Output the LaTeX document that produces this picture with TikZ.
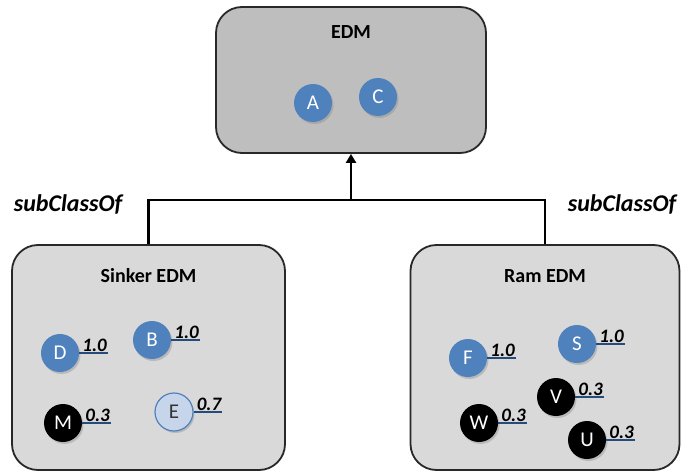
\documentclass[tikz,border=0pt]{standalone}
\usepackage{fontspec}
\setmainfont{Carlito}
\usetikzlibrary{positioning,arrows.meta,shadows}
\definecolor{topbg}{RGB}{190,190,190}
\definecolor{subbg}{RGB}{217,217,217}
\definecolor{boxline}{RGB}{40,40,40}
\definecolor{conblue}{RGB}{79,129,189}
\definecolor{conlight}{RGB}{198,213,234}
\definecolor{ulblue}{RGB}{37,74,124}
\tikzset{
  classbox/.style={rectangle, rounded corners=26pt, draw=boxline, line width=1.8pt,
    inner sep=0pt},
  title/.style={font=\fontsize{20}{22}\selectfont\bfseries, anchor=base},
  concept/.style={circle, minimum size=38pt, inner sep=0pt, text=white,
    font=\fontsize{21}{23}\selectfont,
    drop shadow={shadow xshift=1.5pt, shadow yshift=-2pt, opacity=0.35}},
  bluec/.style={concept, fill=conblue},
  blackc/.style={concept, fill=black},
  lightc/.style={concept, fill=conlight, draw=conblue, line width=1.2pt, text=black!80},
  wt/.style={anchor=south west, inner sep=1pt, xshift=2pt,
    font=\fontsize{19}{21}\selectfont\bfseries\itshape},
  uline/.style={draw=ulblue, line width=1.8pt},
  tree/.style={line width=2.6pt, black},
  lbl/.style={font=\fontsize{24}{26}\selectfont\bfseries\itshape},
}
% weight label with underline, attached to a concept node
\newcommand{\weight}[2]{%
  \node[wt] (w#1) at (#1.east) {#2};
  \draw[uline] (#1.east) -- (#1.east -| w#1.east);}

\begin{document}
\begin{tikzpicture}[x=1pt, y=-1pt]
  \useasboundingbox (0,0) rectangle (681,474);

  % class boxes
  \node[classbox, fill=topbg, minimum width=270pt, minimum height=146pt] (edm) at (351,80) {};
  \node[classbox, fill=subbg, minimum width=273pt, minimum height=225pt] (sinker) at (148.5,357.5) {};
  \node[classbox, fill=subbg, minimum width=269pt, minimum height=225pt] (ram) at (545,357.5) {};

  \node[title] (edmt) at ([yshift=-32pt]edm.north) {EDM};
  \node[title] (sinkert) at ([yshift=-38pt]sinker.north) {Sinker EDM};
  \node[title] (ramt) at ([yshift=-38pt]ram.north) {Ram EDM};

  % subclass links
  \coordinate (join) at (edm.south |- 0,200);
  \draw[tree] (sinker.north) |- (join) -| (ram.north);
  \draw[tree, -{Triangle[length=9pt, width=10pt]}] (join) -- (edm.south);
  \node[lbl] (subl) at (68,204) {subClassOf};
  \node[lbl] (subr) at (622,204) {subClassOf};

  % concepts of EDM
  \node[bluec] (A) at (313,103) {A};
  \node[bluec] (C) at (378,97) {C};

  % concepts of Sinker EDM
  \node[bluec] (D) at (60,353) {D};
  \node[bluec] (B) at (152,340) {B};
  \node[blackc] (M) at (63,423) {M};
  \node[lightc] (E) at (174,412) {E};
  \weight{D}{1.0}
  \weight{B}{1.0}
  \weight{M}{0.3}
  \weight{E}{0.7}

  % concepts of Ram EDM
  \node[bluec] (F) at (468,358) {F};
  \node[bluec] (S) at (577,344) {S};
  \node[blackc] (V) at (556,397) {V};
  \node[blackc] (W) at (479,423) {W};
  \node[blackc] (U) at (587,440) {U};
  \weight{F}{1.0}
  \weight{S}{1.0}
  \weight{V}{0.3}
  \weight{W}{0.3}
  \weight{U}{0.3}
\end{tikzpicture}
\end{document}
